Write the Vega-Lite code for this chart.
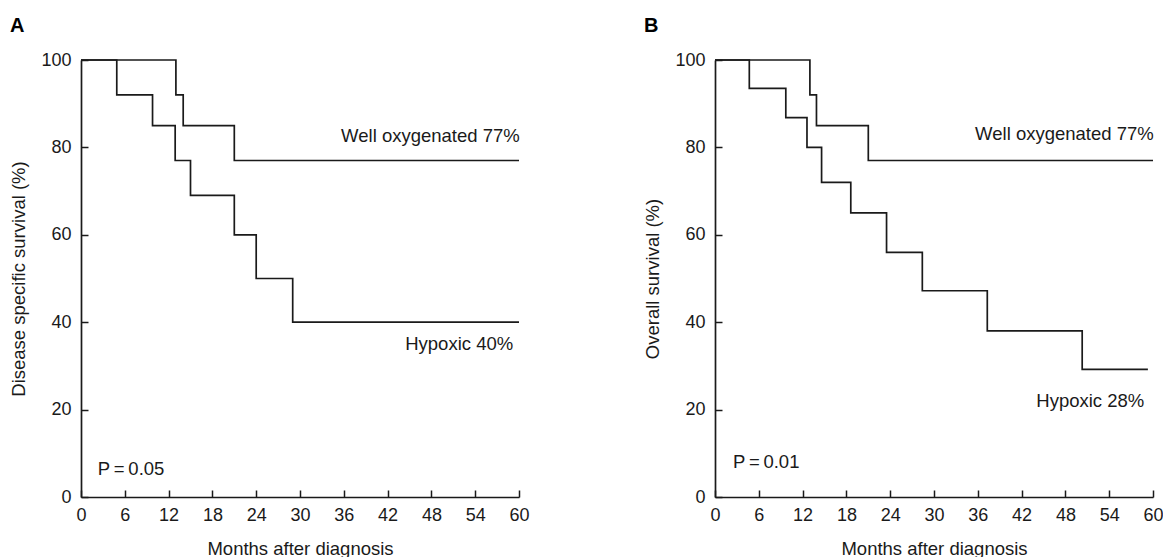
{
  "$schema": "https://vega.github.io/schema/vega-lite/v6.json",
  "padding": {"left": 9, "top": 16, "right": 0, "bottom": 0},
  "background": "white",
  "datasets": {
    "a": [
      {"group": "Well oxygenated", "month": 0, "survival": 100},
      {"group": "Well oxygenated", "month": 13, "survival": 92},
      {"group": "Well oxygenated", "month": 14, "survival": 85},
      {"group": "Well oxygenated", "month": 21, "survival": 77},
      {"group": "Well oxygenated", "month": 60, "survival": 77},
      {"group": "Hypoxic", "month": 0, "survival": 100},
      {"group": "Hypoxic", "month": 4.9, "survival": 92},
      {"group": "Hypoxic", "month": 9.8, "survival": 85},
      {"group": "Hypoxic", "month": 12.9, "survival": 77},
      {"group": "Hypoxic", "month": 15, "survival": 69},
      {"group": "Hypoxic", "month": 21, "survival": 60},
      {"group": "Hypoxic", "month": 24, "survival": 50},
      {"group": "Hypoxic", "month": 29, "survival": 40},
      {"group": "Hypoxic", "month": 60, "survival": 40}
    ],
    "a_labels": [
      {"label": "Well oxygenated 77%", "month": 60.1, "survival": 82.7},
      {"label": "Hypoxic 40%", "month": 59.2, "survival": 34.9}
    ],
    "a_p": [
      {"label": "P\u2009=\u20090.05", "month": 2.3, "survival": 6.3}
    ],
    "b": [
      {"group": "Well oxygenated", "month": 0, "survival": 100},
      {"group": "Well oxygenated", "month": 13, "survival": 92},
      {"group": "Well oxygenated", "month": 13.9, "survival": 85},
      {"group": "Well oxygenated", "month": 21, "survival": 77},
      {"group": "Well oxygenated", "month": 60, "survival": 77},
      {"group": "Hypoxic", "month": 0, "survival": 100},
      {"group": "Hypoxic", "month": 4.7, "survival": 93.5},
      {"group": "Hypoxic", "month": 9.7, "survival": 86.8},
      {"group": "Hypoxic", "month": 12.6, "survival": 80},
      {"group": "Hypoxic", "month": 14.6, "survival": 72},
      {"group": "Hypoxic", "month": 18.6, "survival": 65},
      {"group": "Hypoxic", "month": 23.5, "survival": 56},
      {"group": "Hypoxic", "month": 28.4, "survival": 47.2},
      {"group": "Hypoxic", "month": 37.3, "survival": 38},
      {"group": "Hypoxic", "month": 50.3, "survival": 29.2},
      {"group": "Hypoxic", "month": 59.3, "survival": 29.2}
    ],
    "b_labels": [
      {"label": "Well oxygenated 77%", "month": 60.1, "survival": 83},
      {"label": "Hypoxic 28%", "month": 58.8, "survival": 22}
    ],
    "b_p": [
      {"label": "P\u2009=\u20090.01", "month": 2.45, "survival": 8}
    ]
  },
  "hconcat": [
    {
      "title": {"text": "A", "anchor": "start", "frame": "bounds", "fontSize": 20, "fontWeight": "bold", "offset": 15},
      "width": 438,
      "height": 437,
      "layer": [
        {
          "data": {"name": "a"},
          "mark": {"type": "line", "interpolate": "step-after", "color": "#1a1a1a", "strokeWidth": 1.7},
          "encoding": {
            "x": {"field": "month", "type": "quantitative", "scale": {"domain": [0, 60], "nice": false, "zero": true},
                  "axis": {"values": [0, 6, 12, 18, 24, 30, 36, 42, 48, 54, 60], "title": "Months after diagnosis"}},
            "y": {"field": "survival", "type": "quantitative", "scale": {"domain": [0, 100], "nice": false},
                  "axis": {"values": [0, 20, 40, 60, 80, 100], "title": "Disease specific survival (%)"}},
            "detail": {"field": "group", "type": "nominal"}
          }
        },
        {
          "data": {"name": "a_labels"},
          "mark": {"type": "text", "fontSize": 18.5, "baseline": "middle", "align": "right", "color": "#1a1a1a"},
          "encoding": {
            "x": {"field": "month", "type": "quantitative"},
            "y": {"field": "survival", "type": "quantitative"},
            "text": {"field": "label"}
          }
        },
        {
          "data": {"name": "a_p"},
          "mark": {"type": "text", "fontSize": 18.5, "baseline": "middle", "align": "left", "color": "#1a1a1a"},
          "encoding": {
            "x": {"field": "month", "type": "quantitative"},
            "y": {"field": "survival", "type": "quantitative"},
            "text": {"field": "label"}
          }
        }
      ]
    },
    {
      "title": {"text": "B", "anchor": "start", "frame": "bounds", "fontSize": 20, "fontWeight": "bold", "offset": 15},
      "width": 438,
      "height": 437,
      "layer": [
        {
          "data": {"name": "b"},
          "mark": {"type": "line", "interpolate": "step-after", "color": "#1a1a1a", "strokeWidth": 1.7},
          "encoding": {
            "x": {"field": "month", "type": "quantitative", "scale": {"domain": [0, 60], "nice": false, "zero": true},
                  "axis": {"values": [0, 6, 12, 18, 24, 30, 36, 42, 48, 54, 60], "title": "Months after diagnosis"}},
            "y": {"field": "survival", "type": "quantitative", "scale": {"domain": [0, 100], "nice": false},
                  "axis": {"values": [0, 20, 40, 60, 80, 100], "title": "Overall survival (%)"}},
            "detail": {"field": "group", "type": "nominal"}
          }
        },
        {
          "data": {"name": "b_labels"},
          "mark": {"type": "text", "fontSize": 18.5, "baseline": "middle", "align": "right", "color": "#1a1a1a"},
          "encoding": {
            "x": {"field": "month", "type": "quantitative"},
            "y": {"field": "survival", "type": "quantitative"},
            "text": {"field": "label"}
          }
        },
        {
          "data": {"name": "b_p"},
          "mark": {"type": "text", "fontSize": 18.5, "baseline": "middle", "align": "left", "color": "#1a1a1a"},
          "encoding": {
            "x": {"field": "month", "type": "quantitative"},
            "y": {"field": "survival", "type": "quantitative"},
            "text": {"field": "label"}
          }
        }
      ]
    }
  ],
  "spacing": 113,
  "config": {
    "font": "Liberation Sans",
    "view": {"stroke": null},
    "axis": {
      "grid": false,
      "domainColor": "#1a1a1a",
      "domainWidth": 1.7,
      "tickColor": "#1a1a1a",
      "tickWidth": 1.5,
      "tickSize": -7,
      "labelFontSize": 18,
      "labelColor": "#1a1a1a",
      "titleFontSize": 18.5,
      "titleFontWeight": "normal",
      "titleColor": "#1a1a1a"
    },
    "axisX": {"titlePadding": 14.5, "labelPadding": 16.5, "labelFlush": false},
    "axisY": {"titlePadding": 12, "labelPadding": 17}
  }
}
